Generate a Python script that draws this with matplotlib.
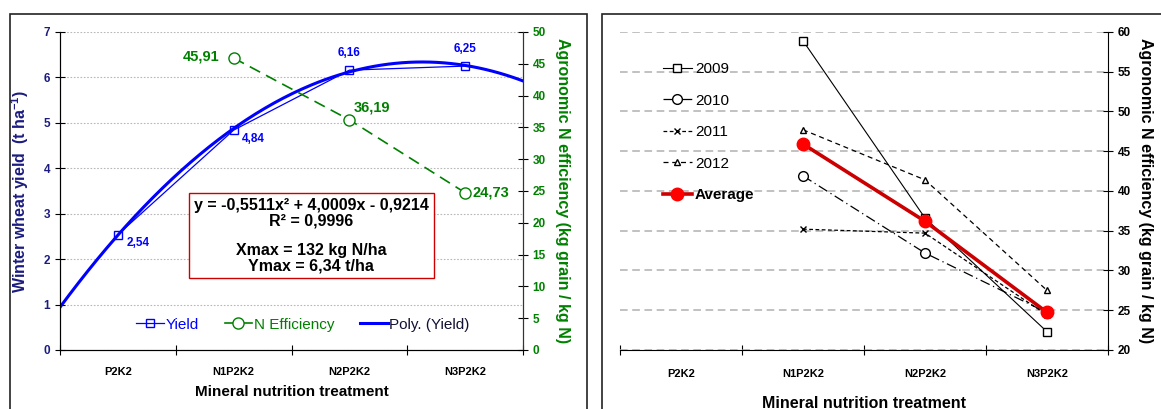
import numpy as np
import matplotlib
matplotlib.use('Agg')
import matplotlib.pyplot as plt
from matplotlib.lines import Line2D
from matplotlib.patches import Rectangle

plt.rcParams['font.family'] = ['Liberation Sans', 'DejaVu Sans']
plt.rcParams['mathtext.fontset'] = 'custom'
plt.rcParams['mathtext.bf'] = 'Liberation Sans:bold'
plt.rcParams['mathtext.rm'] = 'Liberation Sans'

# data
treatments = ['P2K2', 'N1P2K2', 'N2P2K2', 'N3P2K2']
yield_t = [2.54, 4.84, 6.16, 6.25]
yield_lbl = ['2,54', '4,84', '6,16', '6,25']
n_eff = [45.91, 36.19, 24.73]
n_eff_lbl = ['45,91', '36,19', '24,73']
poly_coef = [-0.5511, 4.0009, -0.9214]

years = ['2009', '2010', '2011', '2012']
eff_2009 = [58.9, 36.6, 22.3]
eff_2010 = [41.9, 32.2, 24.7]
eff_2011 = [35.2, 34.7, 24.4]
eff_2012 = [47.7, 41.4, 27.5]
eff_avg = [45.91, 36.19, 24.73]

navy = '#1c1c80'
blue = '#0000ff'
green = '#008000'

fig = plt.figure(figsize=(11.61, 4.09), dpi=100)

# outer frames
fig.patches.append(Rectangle((10/1161, -0.05), 577/1161, 1.05 - 14/409, transform=fig.transFigure,
                             fill=False, ec='#222222', lw=1.2))
fig.patches.append(Rectangle((602/1161, -0.05), 0.6, 1.05 - 14/409, transform=fig.transFigure,
                             fill=False, ec='#222222', lw=1.2))

# ---------------- left panel ----------------
ax = fig.add_axes([60/1161, 1 - 350/409, 463/1161, 318/409])
x = np.arange(1, 5)
ax.set_xlim(0.5, 4.5)
ax.set_ylim(0, 7)
ax.set_yticks(range(0, 8))
ax.set_xticks(np.arange(0.5, 4.6, 1))
ax.set_xticks(x, minor=True)
ax.set_xticklabels([])
ax.set_xticklabels(treatments, minor=True, fontsize=8, fontweight='bold')
ax.tick_params(axis='x', which='minor', length=0, pad=12)
ax.tick_params(axis='x', which='major', direction='inout', length=7)
ax.tick_params(axis='y', direction='inout', length=7, labelcolor=navy, labelsize=8.5)
for lab in ax.get_yticklabels():
    lab.set_fontweight('bold')
ax.grid(axis='y', color='#b8b8b8', ls=(0, (1.5, 1.5)), lw=0.8)
ax.spines['top'].set_visible(False)
for s in ['left', 'bottom', 'right']:
    ax.spines[s].set_color('#333333')
ax.set_ylabel('Winter wheat yield  (t ha$^{\\mathbf{-1}}$)', color=navy, fontsize=11.5,
              fontweight='bold', labelpad=9)
ax.set_xlabel('Mineral nutrition treatment', fontsize=11, fontweight='bold', labelpad=6)

xs = np.linspace(0.5, 4.5, 200)
ax.plot(xs, np.polyval(poly_coef, xs), color=blue, lw=2.2, zorder=3)
ax.plot(x, yield_t, color=blue, lw=0.9, marker='s', ms=6, mfc='none', mec=blue, zorder=4)
offs = [(6, -10), (6, -11), (0, 8), (0, 8)]
has = ['left', 'left', 'center', 'center']
for xi, yi, t, o, h in zip(x, yield_t, yield_lbl, offs, has):
    ax.annotate(t, (xi, yi), xytext=o, textcoords='offset points', ha=h, va='bottom',
                color=blue, fontsize=8.5, fontweight='bold')

ax2 = ax.twinx()
ax2.set_ylim(0, 50)
ax2.set_yticks(range(0, 51, 5))
ax2.tick_params(axis='y', direction='inout', length=7, labelcolor=green, labelsize=8.5)
for lab in ax2.get_yticklabels():
    lab.set_fontweight('bold')
ax2.spines['top'].set_visible(False)
ax2.spines['right'].set_color('#333333')
ax2.plot(x[1:], n_eff, color=green, lw=1.2, ls=(0, (7, 4)), marker='o', ms=8,
         mfc='white', mec=green, zorder=5)
ax2.annotate(n_eff_lbl[0], (x[1], n_eff[0]), xytext=(-10, 1), textcoords='offset points',
             ha='right', va='center', color=green, fontsize=10.5, fontweight='bold')
ax2.annotate(n_eff_lbl[1], (x[2], n_eff[1]), xytext=(3, 4), textcoords='offset points',
             ha='left', va='bottom', color=green, fontsize=10.5, fontweight='bold')
ax2.annotate(n_eff_lbl[2], (x[3], n_eff[2]), xytext=(5, 0), textcoords='offset points',
             ha='left', va='center', color=green, fontsize=10.5, fontweight='bold')
ax2.set_ylabel('Agronomic N efficiency (kg grain / kg N)', color=green, fontsize=11.5,
               fontweight='bold', rotation=270, labelpad=17)

eq = ('y = -0,5511x² + 4,0009x - 0,9214\nR² = 0,9996\n\n'
      'Xmax = 132 kg N/ha\nYmax = 6,34 t/ha')
ax2.text(0.543, 0.36, eq, transform=ax.transAxes, ha='center', va='center', fontsize=11.5,
         fontweight='bold', linespacing=1.0, zorder=6,
         bbox=dict(boxstyle='square,pad=0.3', fc='white', ec='#cc0000', lw=1))

handles = [Line2D([], [], color=blue, lw=0.9, marker='s', ms=6, mfc='none'),
           Line2D([], [], color=green, lw=1.2, marker='o', ms=8, mfc='white'),
           Line2D([], [], color=blue, lw=2.2)]
leg = ax2.legend(handles, ['Yield', 'N Efficiency', 'Poly. (Yield)'], ncol=3, loc='center',
                 bbox_to_anchor=(0.525, 0.08), frameon=False, fontsize=11, handlelength=1.8,
                 handletextpad=0.1, columnspacing=1.7)
for t, c in zip(leg.get_texts(), [blue, green, '#111133']):
    t.set_color(c)

# ---------------- right panel ----------------
bx = fig.add_axes([620/1161, 1 - 350/409, 488/1161, 318/409])
bx.set_xlim(0.5, 4.5)
bx.set_ylim(20, 60)
bx.yaxis.tick_right()
bx.yaxis.set_label_position('right')
bx.set_yticks(range(20, 61, 5))
bx.tick_params(axis='y', direction='inout', length=7, labelsize=8.5)
for lab in bx.get_yticklabels():
    lab.set_fontweight('bold')
bx.set_xticks(np.arange(0.5, 4.6, 1))
bx.set_xticklabels([])
bx.set_xticks(x, minor=True)
bx.set_xticklabels(treatments, minor=True, fontsize=8, fontweight='bold')
bx.tick_params(axis='x', which='minor', length=0, pad=14)
bx.tick_params(axis='x', which='major', direction='inout', length=7)
bx.spines['top'].set_visible(False)
bx.spines['left'].set_visible(False)
bx.grid(axis='y', color='#b0b0b0', ls=(0, (5, 3)), lw=1.1)
bx.set_axisbelow(True)
bx.set_xlabel('Mineral nutrition treatment', fontsize=11.5, fontweight='bold', labelpad=12)
bx.set_ylabel('Agronomic N efficiency (kg grain / kg N)', fontsize=11.5, fontweight='bold',
              rotation=270, labelpad=16)

xr = x[1:]
bx.plot(xr, eff_2009, color='black', lw=0.8, marker='s', ms=6, mfc='white', label=years[0])
bx.plot(xr, eff_2010, color='black', lw=0.9, ls=(0, (8, 3, 1, 3)), marker='o', ms=7,
        mfc='white', label=years[1])
bx.plot(xr, eff_2011, color='black', lw=0.9, ls=(0, (3, 2)), marker='x', ms=4,
        label=years[2])
bx.plot(xr, eff_2012, color='black', lw=0.9, ls=(0, (4, 3)), marker='^', ms=5,
        mfc='white', label=years[3])
bx.plot(xr, eff_avg, color='#cc0000', lw=2.6, marker='o', ms=9, mfc='red', mec='red',
        label='Average', zorder=5)
leg2 = bx.legend(loc='upper left', bbox_to_anchor=(0.075, 0.925), frameon=False, fontsize=11,
                 handlelength=1.9, handletextpad=0.2, labelspacing=1.15, borderaxespad=0)
leg2.get_texts()[-1].set_fontweight('bold')

fig.savefig('out.png', dpi=100)
